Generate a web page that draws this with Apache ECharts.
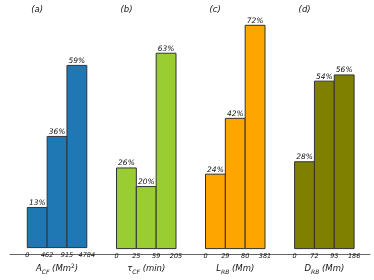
<!DOCTYPE html>
<html>
<head>
<meta charset="utf-8">
<script src="https://cdn.jsdelivr.net/npm/echarts@6/dist/echarts.min.js"></script>
<style>html,body{margin:0;padding:0;background:#fff}#c{width:374px;height:280px}</style>
</head>
<body>
<div id="c"></div>
<script>
const panelTitles = ['(a)', '(b)', '(c)', '(d)'];
const edgeLabelsA = ['0', '462', '915', '4784'];
const edgeLabelsB = ['0', '25', '59', '205'];
const edgeLabelsC = ['0', '29', '80', '381'];
const edgeLabelsD = ['0', '72', '93', '186'];
const valuesA = [13, 36, 59];
const valuesB = [26, 20, 63];
const valuesC = [24, 42, 72];
const valuesD = [28, 54, 56];
const axisNames = [
  '{m|A}{s|CF}{m| (Mm}{p|2}{m|)}',
  '{m|τ}{s|CF}{m| (min)}',
  '{m|L}{s|RB}{m| (Mm)}',
  '{m|D}{s|RB}{m| (Mm)}'
];
const colors = ['#1f77b4', '#9acd32', '#ffa500', '#808000'];

const edgeLabels = [edgeLabelsA, edgeLabelsB, edgeLabelsC, edgeLabelsD];
const values = [valuesA, valuesB, valuesC, valuesD];
const lefts = [27.3, 116.5, 205.5, 294.6];
const FONT = '"DejaVu Sans", sans-serif';

const grids = [], xAxes = [], yAxes = [], series = [], titles = [];
for (let i = 0; i < 4; i++) {
  grids.push({left: lefts[i], width: 59.5, top: 16, bottom: 26});
  xAxes.push({
    gridIndex: i, type: 'value', min: 0, max: 3, interval: 1,
    axisLine: {show: false}, axisTick: {show: false}, splitLine: {show: false},
    axisLabel: {
      formatter: (v) => edgeLabels[i][Math.round(v)], fontSize: 6.5, fontStyle: 'italic',
      fontFamily: FONT, color: '#111', margin: 4, showMinLabel: true, showMaxLabel: true
    },
    name: axisNames[i], nameLocation: 'middle', nameGap: 14,
    nameTextStyle: {
      fontFamily: FONT, color: '#111',
      rich: {
        m: {fontSize: 8.5, fontStyle: 'italic', fontFamily: FONT, color: '#111', verticalAlign: 'bottom'},
        s: {fontSize: 6, fontStyle: 'italic', fontFamily: FONT, color: '#111', verticalAlign: 'bottom', padding: [0, 0, -1.5, 0]},
        p: {fontSize: 6, fontStyle: 'normal', fontFamily: FONT, color: '#111', verticalAlign: 'top', padding: [-1, 0, 0, 0]}
      }
    }
  });
  yAxes.push({gridIndex: i, type: 'value', min: 0, max: 75, show: false});
  titles.push({
    text: panelTitles[i], left: lefts[i] - 1, top: 0,
    textStyle: {fontSize: 8.5, fontStyle: 'italic', fontWeight: 'normal', fontFamily: FONT, color: '#111'}
  });
  series.push({
    type: 'custom', xAxisIndex: i, yAxisIndex: i, clip: false,
    data: values[i].map((v, k) => [k, v]),
    renderItem: (params, api) => {
      const x0 = api.value(0), v = api.value(1);
      const p0 = api.coord([x0, 0]);
      const p1 = api.coord([x0 + 1, v]);
      return {
        type: 'group',
        children: [
          {type: 'rect', shape: {x: p0[0], y: p1[1], width: p1[0] - p0[0], height: p0[1] - p1[1]},
           style: {fill: colors[i], stroke: '#333', lineWidth: 1}},
          {type: 'text', x: (p0[0] + p1[0]) / 2, y: p1[1] - 0.5,
           style: {text: v + '%', align: 'center', verticalAlign: 'bottom',
                   font: 'italic 7.5px ' + FONT, fill: '#111'}}
        ]
      };
    }
  });
}
// baseline axis spanning the full width
grids.push({left: 10, right: 4, top: 16, bottom: 26});
xAxes.push({gridIndex: 4, type: 'value', min: 0, max: 1, axisLine: {show: true, lineStyle: {color: '#666', width: 1}},
  axisTick: {show: false}, axisLabel: {show: false}, splitLine: {show: false}});
yAxes.push({gridIndex: 4, type: 'value', min: 0, max: 1, show: false});

const chart = echarts.init(document.getElementById('c'), null, {renderer: 'canvas'});
chart.setOption({
  animation: false,
  backgroundColor: '#fff',
  title: titles,
  grid: grids,
  xAxis: xAxes,
  yAxis: yAxes,
  series: series
});
</script>
</body>
</html>
